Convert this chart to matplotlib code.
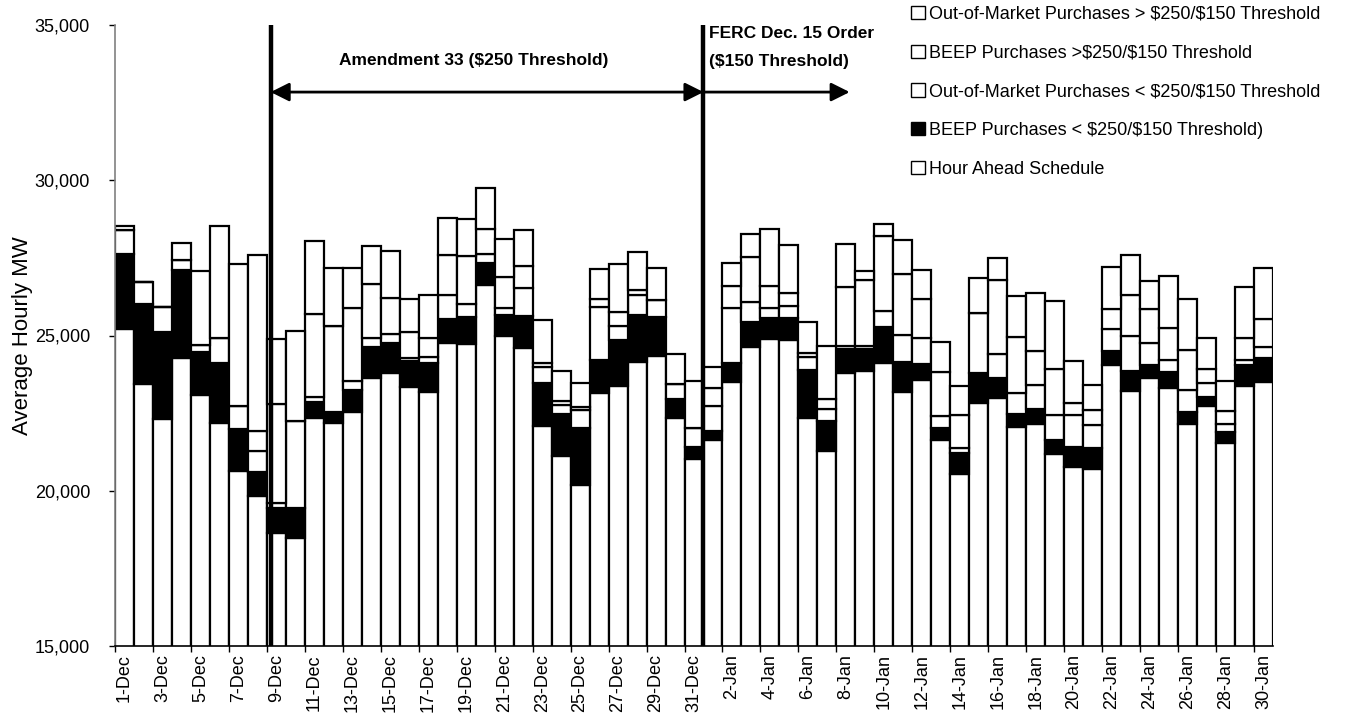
import matplotlib
matplotlib.use("Agg")
import matplotlib.pyplot as plt
from matplotlib.patches import Patch
from matplotlib.ticker import FuncFormatter
import numpy as np

plt.rcParams['font.family'] = ['Liberation Sans', 'DejaVu Sans']

# ---- data -------------------------------------------------------------
dates = [f"{d}-Dec" for d in range(1, 32)] + [f"{d}-Jan" for d in range(1, 31)]

hour_ahead = [25200, 23430, 22320, 24270, 23070, 22190, 20630, 19820, 18650, 18470,
              22350, 22170, 22540, 23620, 23800, 23350, 23180, 24770, 24720, 26640,
              24970, 24610, 22100, 21110, 20190, 23140, 23370, 24160, 24340, 22330,
              21020,
              21630, 23510, 24630, 24880, 24860, 22350, 21290, 23800, 23860, 24110,
              23180, 23570, 21630, 20550, 22810, 22980, 22040, 22160, 21170, 20770,
              20700, 24050, 23220, 23640, 23300, 22160, 22720, 21540, 23360, 23490]
beep_lo = [2430, 2580, 2780, 2850, 1400, 1920, 1360, 780, 790, 970,
           505, 360, 700, 1020, 950, 830, 950, 760, 890, 700,
           690, 1020, 1380, 1350, 1830, 1080, 1490, 1500, 1270, 610,
           390,
           290, 610, 810, 670, 700, 1540, 950, 760, 700, 1150,
           970, 500, 400, 670, 990, 660, 440, 470, 480, 640,
           690, 440, 650, 410, 510, 380, 290, 340, 690, 770]
oom_lo = [780, 700, 810, 310, 215, 810, 730, 670, 160, 2800,
          160, 2760, 310, 290, 310, 80, 190, 790, 400, 290,
          220, 890, 490, 290, 570, 1690, 430, 650, 540, 490,
          620,
          810, 1750, 650, 320, 400, 430, 380, 110, 110, 540,
          860, 840, 380, 160, 1940, 750, 660, 790, 800, 1040,
          730, 710, 1120, 710, 390, 690, 450, 270, 150, 380]
beep_hi = [0, 0, 0, 0, 0, 0, 0, 650, 3180, 0,
           2690, 0, 2350, 1720, 1160, 850, 610, 1280, 1560, 810,
           1000, 720, 160, 140, 110, 250, 470, 170, 0, 0,
           0,
           590, 710, 1450, 730, 400, 130, 320, 1890, 2130, 2400,
           1970, 1260, 1430, 1050, 0, 2400, 1820, 1070, 1480, 390,
           470, 650, 1300, 1090, 1050, 1300, 470, 410, 710, 890]
oom_hi = [120, 0, 0, 550, 2400, 3610, 4580, 5660, 2120, 2910,
          2330, 1890, 1270, 1240, 1510, 1080, 1380, 1180, 1190, 1310,
          1220, 1150, 1370, 970, 780, 990, 1540, 1210, 1010, 970,
          1490,
          680, 750, 730, 1830, 1570, 990, 1720, 1380, 290, 380,
          1110, 950, 960, 950, 1100, 700, 1300, 1870, 2170, 1350,
          830, 1360, 1300, 890, 1670, 1660, 980, 970, 1660, 1630]

y_ticks = [15000, 20000, 25000, 30000, 35000]
series_labels = ["Hour Ahead Schedule",
                 "BEEP Purchases < \\$250/\\$150 Threshold)",
                 "Out-of-Market Purchases < \\$250/\\$150 Threshold",
                 "BEEP Purchases >\\$250/\\$150 Threshold",
                 "Out-of-Market Purchases > \\$250/\\$150 Threshold"]
series_colors = ["white", "black", "white", "white", "white"]

# ---- figure -----------------------------------------------------------
W, H = 1371, 726
fig = plt.figure(figsize=(W / 100, H / 100), dpi=100)
ax = fig.add_axes([115 / W, 1 - 646 / H, (1273 - 115) / W, (646 - 25) / H])

x = np.arange(len(dates))
bottom = np.zeros(len(dates))
handles = []
for vals, col, lab in zip([hour_ahead, beep_lo, oom_lo, beep_hi, oom_hi],
                          series_colors, series_labels):
    vals = np.array(vals, dtype=float)
    ax.bar(x, vals, width=1.0, bottom=bottom, color=col, edgecolor='black',
           linewidth=1.6, zorder=2)
    bottom += vals
    handles.append(Patch(facecolor=col, edgecolor='black', linewidth=1.0, label=lab))

ax.set_xlim(-0.5, len(dates) - 0.5)
ax.set_ylim(15000, 35000)

for s in ['top', 'right']:
    ax.spines[s].set_visible(False)
ax.spines['left'].set_color('#808080')
ax.spines['left'].set_linewidth(1.2)
ax.spines['bottom'].set_color('black')
ax.spines['bottom'].set_linewidth(1.2)

ax.set_yticks(y_ticks)
ax.yaxis.set_major_formatter(FuncFormatter(lambda v, p: f"{v:,.0f}"))
ax.tick_params(axis='y', direction='out', length=4, width=1, color='black',
               labelsize=13, pad=14)

ax.set_xticks(x[::2])
ax.set_xticklabels(dates[::2], rotation=90, fontsize=13)
ax.tick_params(axis='x', which='major', length=0, pad=6)
ax.set_xticks(np.arange(-0.5, len(dates), 2), minor=True)
ax.tick_params(axis='x', which='minor', direction='inout', length=8, width=1, color='black')

ax.set_ylabel("Average Hourly MW", fontsize=16)
ax.yaxis.set_label_coords((33 - 115) / 1158, 0.5)

# ---- period markers ---------------------------------------------------
line1, line2 = 7.7, 30.5
for xv in (line1, line2):
    ax.axvline(xv, color='black', linewidth=3.2, zorder=5)

ax.annotate('', xy=(line1, 32840), xytext=(line2, 32840),
            arrowprops=dict(arrowstyle='<|-|>', mutation_scale=28, lw=2,
                            color='black', shrinkA=0, shrinkB=0), zorder=6)
ax.annotate('', xy=(38.2, 32840), xytext=(line2, 32840),
            arrowprops=dict(arrowstyle='-|>', mutation_scale=28, lw=2,
                            color='black', shrinkA=0, shrinkB=0), zorder=6)
ax.text(18.4, 33870, "Amendment 33 (\\$250 Threshold)", ha='center', va='center',
        fontsize=12.5, fontweight='bold')
ax.text(30.8, 34740, "FERC Dec. 15 Order", ha='left', va='center',
        fontsize=12.5, fontweight='bold')
ax.text(30.8, 33810, "(\\$150 Threshold)", ha='left', va='center',
        fontsize=12.5, fontweight='bold')

# ---- legend -----------------------------------------------------------
leg = ax.legend(handles=handles[::-1], loc='upper left',
                bbox_to_anchor=(911 / W, 1 - 6 / H), bbox_transform=fig.transFigure,
                frameon=False, fontsize=13, handlelength=0.75, handleheight=0.75,
                handletextpad=0.25, labelspacing=1.2, borderpad=0, borderaxespad=0)

fig.savefig("out.png", dpi=100)
